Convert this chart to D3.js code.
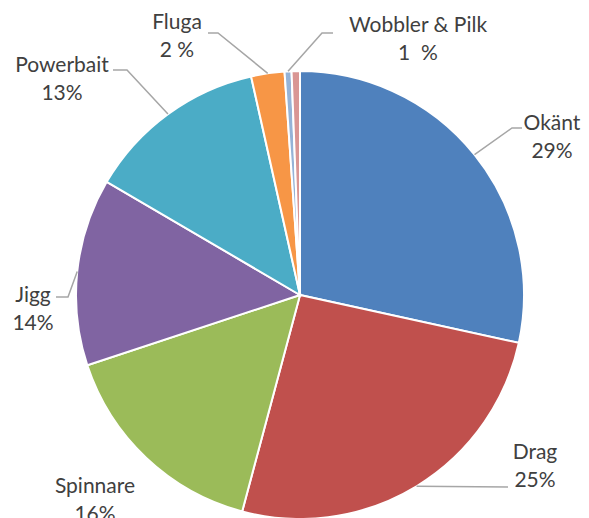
<!DOCTYPE html>
<html>
<head>
<meta charset="UTF-8">
<title>Fiskemetod</title>
<script src="https://d3js.org/d3.v7.min.js"></script>
<style>
  body {margin: 0; background: #fff;}
  svg text {font-family: Lato, "Open Sans", sans-serif; font-size: 21px; fill: #404040; white-space: pre;}
  .slice {stroke: #fff; stroke-width: 2px;}
  .leader {fill: none; stroke: #a6a6a6; stroke-width: 1.5px;}
</style>
</head>
<body>
<div id="chart"></div>
<script>
// slices, clockwise from 12 o'clock
var categories = ["Okänt", "Drag", "Spinnare", "Jigg", "Powerbait", "Fluga", "Wobbler", "Pilk"];
var values = [28.4, 25.7, 15.75, 13.5, 13.05, 2.4, 0.5, 0.6];
var colors = ["#4f81bd", "#c0504d", "#9bbb59", "#8064a2", "#4bacc6", "#f79646", "#95b3d7", "#d99694"];

// data labels (Wobbler & Pilk share one label)
var labelNames = ["Okänt", "Drag", "Spinnare", "Jigg", "Powerbait", "Fluga", "Wobbler & Pilk"];
var labelPcts = ["29%", "25%", "16%", "14%", "13%", "2 %", "1  %"];

var width = 589, height = 518,
    cx = 300, cy = 295, radius = 224,
    lineGap = 28;

// where each label sits (centre x, first baseline) and leader line offsets from it
var labelLayout = [
  {x: 552, y: 130, elbow: [-40, -2], end: [-30, -2]},
  {x: 535, y: 459, elbow: [-27, 28], end: [-27, 28]},
  {x: 95, y: 493, elbow: null, end: null},
  {x: 33, y: 302, elbow: [35, -5], end: [23, -5]},
  {x: 62, y: 72, elbow: [65, -2], end: [51, -2]},
  {x: 177, y: 29, elbow: [41, 4], end: [31, 4]},
  {x: 418, y: 32, elbow: [-96, 1], end: [-85, 1]}
];

var svg = d3.select("#chart").append("svg")
    .attr("width", width)
    .attr("height", height);

var pie = d3.pie().sort(null).value(function(d) { return d; });
var arcs = pie(values);

var arc = d3.arc().innerRadius(0).outerRadius(radius);
var edge = d3.arc().innerRadius(radius).outerRadius(radius);

var g = svg.append("g")
    .attr("transform", "translate(" + cx + "," + cy + ")");

g.selectAll("path.slice")
    .data(arcs)
    .enter().append("path")
    .attr("class", "slice")
    .attr("d", arc)
    .attr("fill", function(d, i) { return colors[i]; });

// leader lines
labelLayout.forEach(function(l, i) {
  if (!l.end) return;
  var p = edge.centroid(arcs[i]);
  var pts = [
    [cx + p[0], cy + p[1]],
    [l.x + l.elbow[0], l.y + l.elbow[1]],
    [l.x + l.end[0], l.y + l.end[1]]
  ];
  svg.append("path")
      .attr("class", "leader")
      .attr("d", d3.line()(pts));
});

var labels = svg.selectAll("text.lbl")
    .data(labelNames)
    .enter().append("text")
    .attr("class", "lbl")
    .attr("text-anchor", "middle")
    .attr("x", function(d, i) { return labelLayout[i].x; })
    .attr("y", function(d, i) { return labelLayout[i].y; });

labels.append("tspan")
    .attr("x", function(d, i) { return labelLayout[i].x; })
    .text(function(d) { return d; });

labels.append("tspan")
    .attr("x", function(d, i) { return labelLayout[i].x; })
    .attr("dy", lineGap)
    .text(function(d, i) { return labelPcts[i]; });
</script>
</body>
</html>
